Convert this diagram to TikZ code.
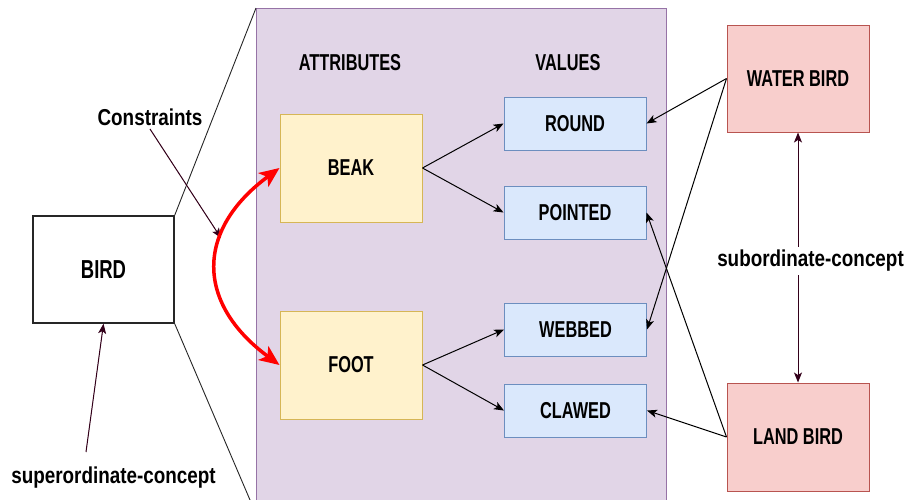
\documentclass[tikz,border=0pt]{standalone}
\usepackage{fontspec}
\setmainfont{Liberation Sans}
\newfontfamily\boxfont{Liberation Sans}[FakeStretch=0.71]
\newfontfamily\notefont{Liberation Sans}[FakeStretch=0.82]
\usetikzlibrary{arrows.meta}

\definecolor{panelfill}{HTML}{E1D5E7}
\definecolor{paneldraw}{HTML}{9673A6}
\definecolor{attrfill}{HTML}{FFF2CC}
\definecolor{attrdraw}{HTML}{D6B656}
\definecolor{valfill}{HTML}{DAE8FC}
\definecolor{valdraw}{HTML}{6C8EBF}
\definecolor{kindfill}{HTML}{F8CECC}
\definecolor{kinddraw}{HTML}{B85450}
\definecolor{conceptcol}{HTML}{33001A}

\begin{document}
\begin{tikzpicture}[x=1pt,y=-1pt,
  box/.style={draw, line width=1pt, inner sep=0pt, minimum width=142pt, minimum height=107pt,
    font={\boxfont\bfseries\fontsize{23}{26}\selectfont}},
  attrbox/.style={box, fill=attrfill, draw=attrdraw, minimum height=108pt},
  valbox/.style={box, fill=valfill, draw=valdraw, minimum height=53pt},
  kindbox/.style={box, fill=kindfill, draw=kinddraw},
  head/.style={font={\boxfont\bfseries\fontsize{23}{26}\selectfont}},
  note/.style={font={\notefont\bfseries\fontsize{23}{26}\selectfont}},
  arr/.style={-{Stealth[length=10pt,width=8pt,inset=2.5pt]}, line width=1pt},
  concept/.style={arr, draw=conceptcol, fill=conceptcol},
  link/.style={black!85, line width=0.9pt},
  constraint/.style={red, line width=3.5pt,
    {Stealth[length=20pt,width=17pt,inset=5pt]}-{Stealth[length=20pt,width=17pt,inset=5pt]}}]

\useasboundingbox (0,0) rectangle (909,499);
\clip (0,0) rectangle (909,499);

\node[draw=paneldraw, fill=panelfill, line width=1pt, anchor=north west,
  minimum width=410pt, minimum height=505pt] (panel) at (256,8) {};

\node[box, fill=white, draw=black!85, line width=1.4pt, minimum width=141pt,
  font={\boxfont\bfseries\fontsize{26}{29}\selectfont}] (bird) at (103.5,269.5) {BIRD};

\node[head] (attrhead) at (350,63) {ATTRIBUTES};
\node[head] (valhead) at (568,63) {VALUES};

\node[attrbox] (beak) at (351,168) {BEAK};
\node[attrbox] (foot) at (351,365) {FOOT};

\node[valbox] (round) at (575,123.5) {ROUND};
\node[valbox] (pointed) at (575,212.5) {POINTED};
\node[valbox] (webbed) at (575.5,329.5) {WEBBED};
\node[valbox] (clawed) at (575.5,410.5) {CLAWED};

\node[kindbox] (waterbird) at (798,78.5) {WATER BIRD};
\node[kindbox, minimum height=108pt] (landbird) at (798,437) {LAND BIRD};

\node[note] (constraints) at (150,117) {Constraints};
\node[note] (super) at (113.5,478) {superordinate-concept};
\node[note] (sub) at (810.5,261) {subordinate-concept};

\coordinate (constrtip) at (221,238);
\coordinate (supertail) at (86,452);

\draw[link] (bird.north east) -- (panel.north west);
\draw[link] (bird.south east) -- (panel.south west);

\draw[arr] (beak.east) -- (round.west);
\draw[arr] (beak.east) -- (pointed.west);
\draw[arr] (foot.east) -- (webbed.west);
\draw[arr] (foot.east) -- (clawed.west);

\draw[arr] (waterbird.west) -- (round.east);
\draw[arr] (waterbird.west) -- (webbed.east);
\draw[arr] (landbird.west) -- (pointed.east);
\draw[arr] (landbird.west) -- (clawed.east);

\draw[concept] (constraints.south) -- (constrtip);
\draw[concept] (supertail) -- (bird.south);
\draw[concept] (sub.north -| waterbird.south) -- (waterbird.south);
\draw[concept] (sub.south -| landbird.north) -- (landbird.north);

\draw[constraint] (beak.west) .. controls +(-84,62) and +(-84,-62) .. (foot.west);

\end{tikzpicture}
\end{document}
